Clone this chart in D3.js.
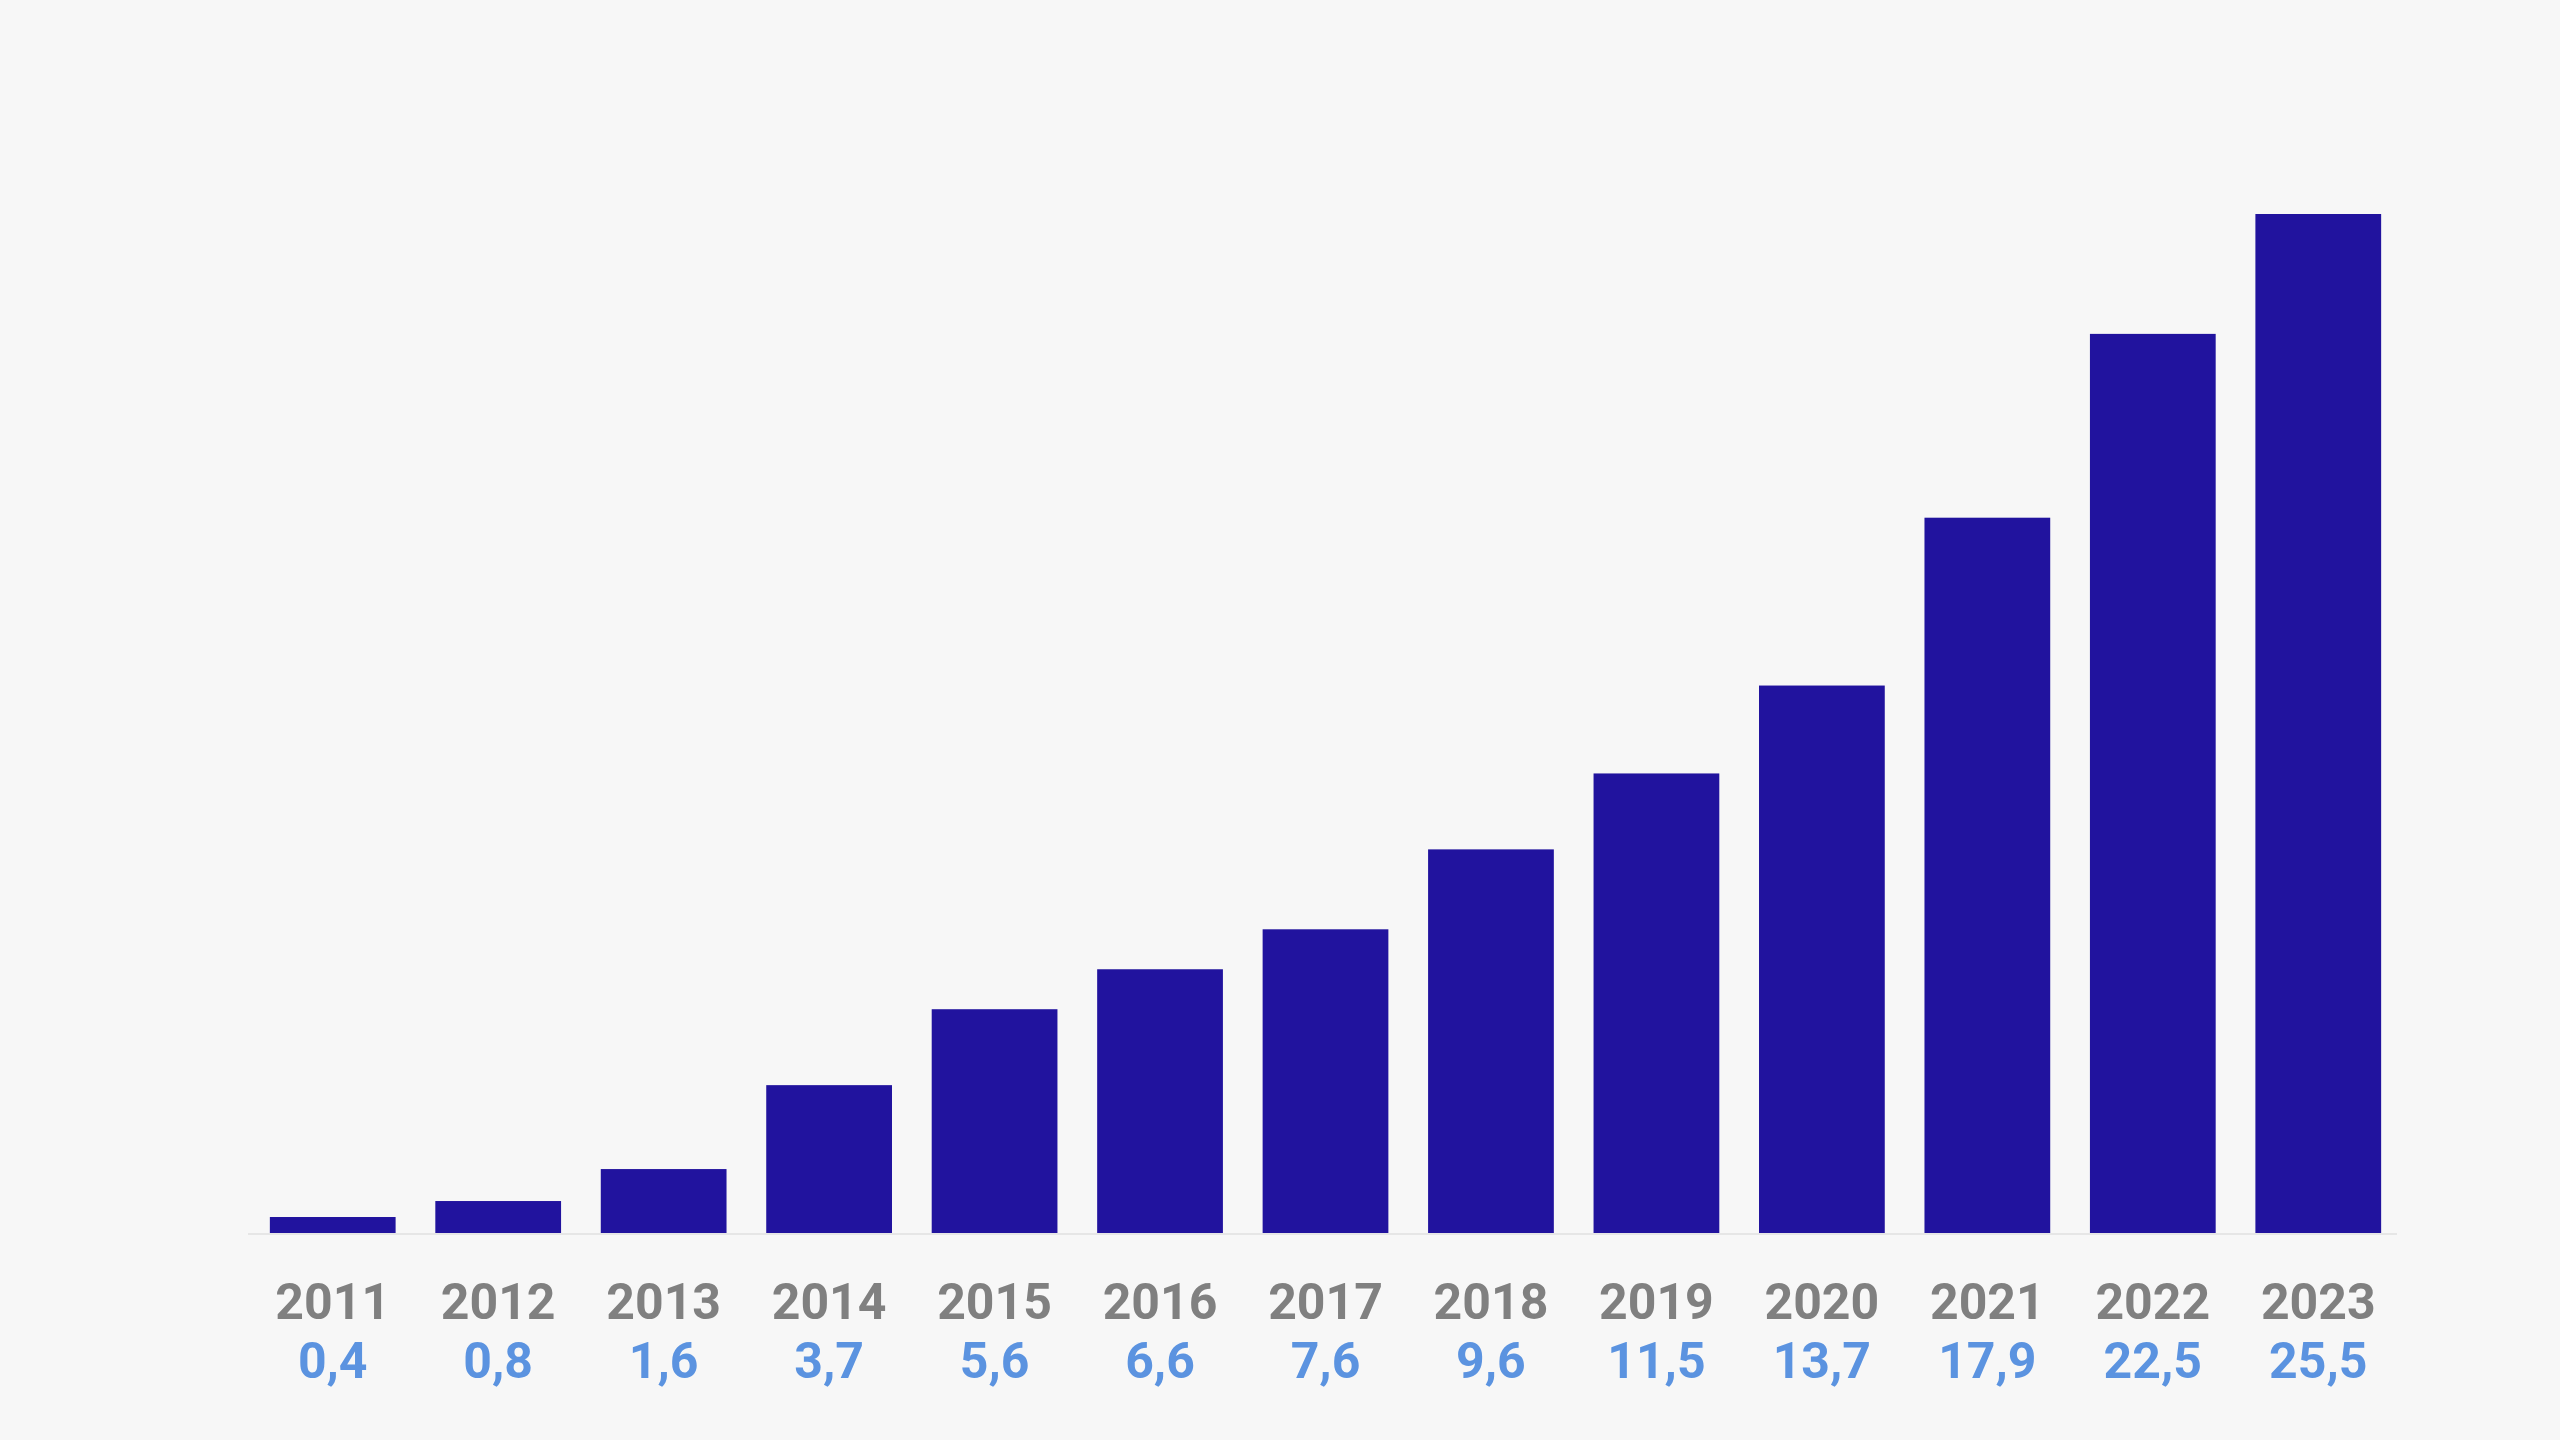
<!DOCTYPE html>
<html>
<head>
<meta charset="utf-8">
<script src="https://cdn.jsdelivr.net/npm/d3@7"></script>
<style>
  body { margin: 0; background: #f7f7f7; }
  svg { display: block; }
</style>
</head>
<body>
<div id="chart-area"></div>
<script>
var years = ["2011","2012","2013","2014","2015","2016","2017","2018","2019","2020","2021","2022","2023"]
var values = [0.4, 0.8, 1.6, 3.7, 5.6, 6.6, 7.6, 9.6, 11.5, 13.7, 17.9, 22.5, 25.5]

var width = 2560, height = 1440
var baseY = 1233

var svg = d3.select("#chart-area")
	.append("svg")
		.attr("width", width)
		.attr("height", height)
		.style("background", "#f7f7f7")

var x = d3.scaleBand()
	.domain(years)
	.range([250, 2401])
	.paddingInner(0.24)
	.paddingOuter(0.12)
var y = d3.scaleLinear()
	.domain([0, 25.5])
	.range([baseY, 214])

// baseline
svg.append("line")
	.attr("x1", 248).attr("x2", 2397)
	.attr("y1", baseY + 1).attr("y2", baseY + 1)
	.attr("stroke", "#e6e6e6")
	.attr("stroke-width", 2)

svg.selectAll("rect.bar")
	.data(values)
	.enter().append("rect")
		.attr("class", "bar")
		.attr("x", (d, i) => x(years[i]))
		.attr("width", x.bandwidth())
		.attr("y", d => y(d))
		.attr("height", d => baseY - y(d))
		.attr("fill", "#21139e")

// year labels
svg.selectAll("text.year")
	.data(years)
	.enter().append("text")
		.attr("class", "year")
		.attr("x", d => x(d) + x.bandwidth() / 2)
		.attr("y", 1319)
		.attr("text-anchor", "middle")
		.attr("font-family", "Roboto, sans-serif")
		.attr("font-weight", "bold")
		.attr("font-size", "50px")
		.attr("fill", "#808080")
		.text(d => d)

// value labels
var fmt = d => d3.format(".1f")(d).replace(".", ",")
svg.selectAll("text.val")
	.data(values)
	.enter().append("text")
		.attr("class", "val")
		.attr("x", (d, i) => x(years[i]) + x.bandwidth() / 2)
		.attr("y", 1378)
		.attr("text-anchor", "middle")
		.attr("font-family", "Roboto, sans-serif")
		.attr("font-weight", "bold")
		.attr("font-size", "50px")
		.attr("fill", "#5b93e0")
		.text(fmt)
</script>
</body>
</html>
